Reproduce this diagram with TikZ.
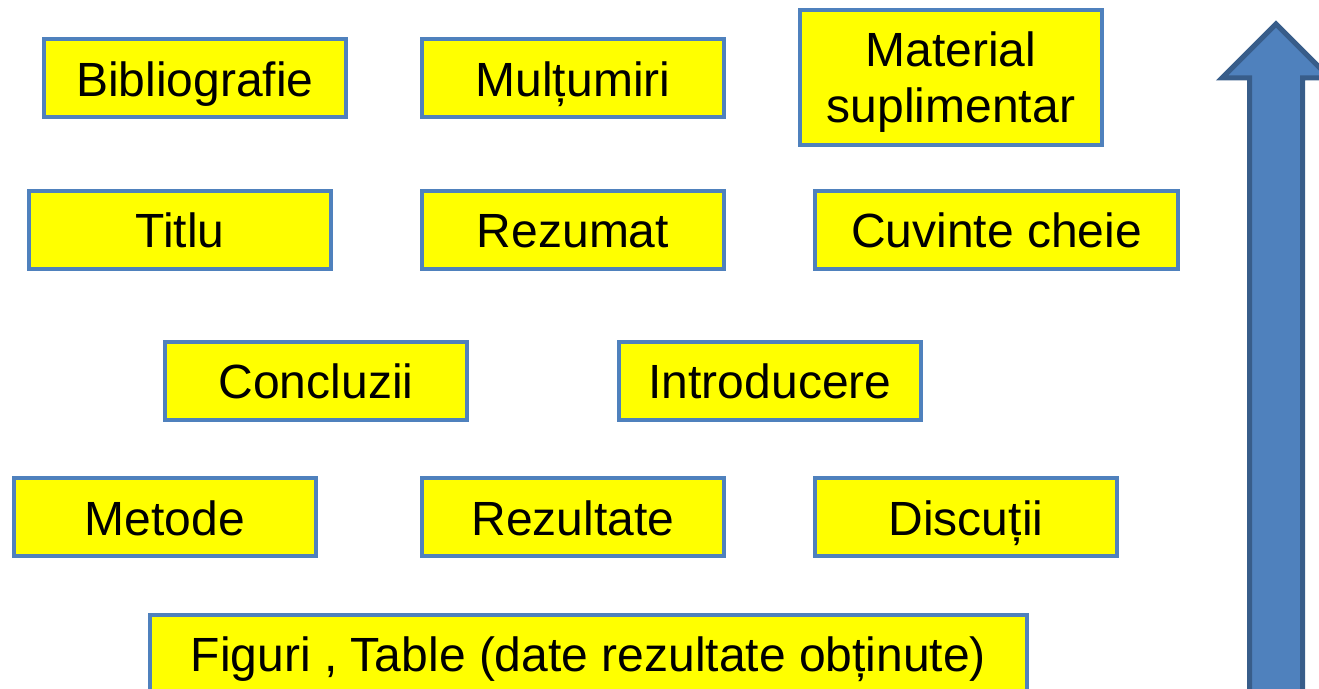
\documentclass[tikz,border=0pt]{standalone}
\usepackage{fontspec}
\setmainfont{Liberation Sans}

\definecolor{partyellow}{HTML}{FFFF00}
\definecolor{partblue}{HTML}{4F81BD}
\definecolor{arrowedge}{HTML}{385D8A}

\tikzset{
  part/.style={draw=partblue, fill=partyellow, line width=2pt,
    minimum width=151pt, minimum height=39pt, inner sep=0pt,
    align=center, font=\fontsize{24}{28}\selectfont},
  oneline/.style={text height=22pt, text depth=4pt}
}

\begin{document}
\begin{tikzpicture}[x=0.5pt,y=-0.5pt]

            \useasboundingbox (0,0) rectangle (1319,689);
            \clip (0,0) rectangle (1319,689);

            % boxes of the same size, given by their centre
            \foreach \px/\py/\nm/\txt in {
                195/78.5/bib/Bibliografie,
                573/78.5/mul/Mulțumiri,
                180/230/tit/Titlu,
                573/230/rez/Rezumat,
                316/381/con/Concluzii,
                770/381/int/Introducere,
                165/517.5/met/Metode,
                573/517.5/res/Rezultate,
                966/517.5/dis/Discuții}
            {
              \node[part, oneline] (\nm) at (\px,\py) {\txt};
            }

            % the boxes that differ
            \node[part, minimum height=67.5pt] (mat) at (951,77.5) {\rule{0pt}{22pt}Material\\suplimentar};
            \node[part, oneline, minimum width=181.5pt] (cuv) at (996.5,230) {Cuvinte cheie};
            \node[part, oneline, minimum width=438.5pt] (fig) at (588.5,654) {Figuri , Table (date rezultate obținute)};

            % block arrow on the right
            \draw[draw=arrowedge, fill=partblue, line width=2.5pt, line join=miter]
              (1249.5,720) -- (1249.5,78) -- (1222,78) -- (1276,24)
              -- (1330,78) -- (1302.5,78) -- (1302.5,720) -- cycle;
            \end{tikzpicture}
\end{document}
